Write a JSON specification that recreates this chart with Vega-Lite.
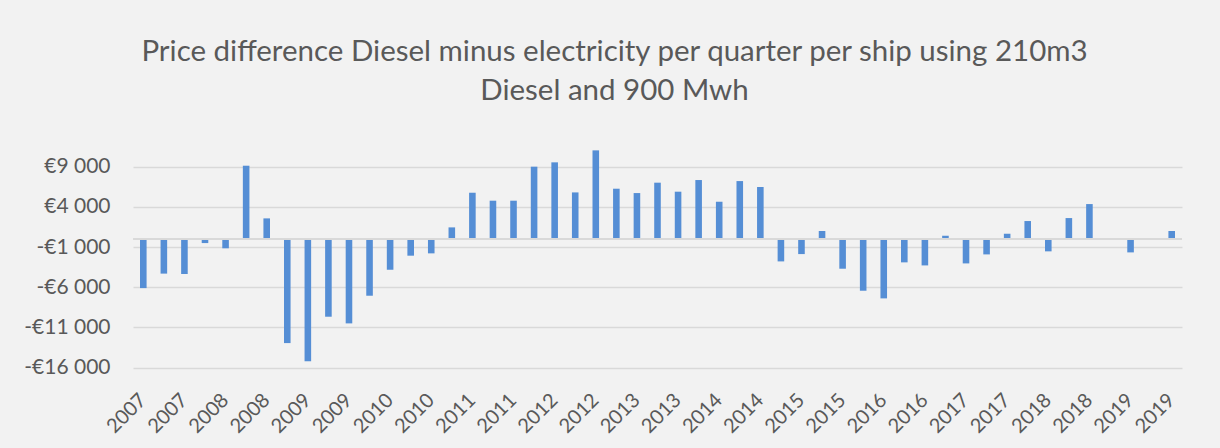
{
  "$schema": "https://vega.github.io/schema/vega-lite/v6.json",
  "autosize": {"type": "none"},
  "width": 1049,
  "height": 218.7,
  "padding": {"left": 133, "top": 149, "right": 38, "bottom": 80},
  "background": "#f2f2f2",
  "config": {
    "view": {"stroke": null},
    "font": "Lato"
  },
  "title": {
    "text": ["Price difference Diesel minus electricity per quarter per ship using 210m3", "Diesel and 900 Mwh"],
    "font": "Lato",
    "fontSize": 29.5,
    "fontWeight": "normal",
    "color": "#595959",
    "lineHeight": 39.5,
    "anchor": "middle",
    "dx": -43,
    "offset": 42
  },
  "data": {
    "values": [
      {"q": "2007Q1", "v": -6100},
      {"q": "2007Q2", "v": -4300},
      {"q": "2007Q3", "v": -4350},
      {"q": "2007Q4", "v": -500},
      {"q": "2008Q1", "v": -1150},
      {"q": "2008Q2", "v": 9120},
      {"q": "2008Q3", "v": 2570},
      {"q": "2008Q4", "v": -12940},
      {"q": "2009Q1", "v": -15200},
      {"q": "2009Q2", "v": -9660},
      {"q": "2009Q3", "v": -10490},
      {"q": "2009Q4", "v": -7050},
      {"q": "2010Q1", "v": -3810},
      {"q": "2010Q2", "v": -2070},
      {"q": "2010Q3", "v": -1780},
      {"q": "2010Q4", "v": 1450},
      {"q": "2011Q1", "v": 5760},
      {"q": "2011Q2", "v": 4770},
      {"q": "2011Q3", "v": 4770},
      {"q": "2011Q4", "v": 9000},
      {"q": "2012Q1", "v": 9540},
      {"q": "2012Q2", "v": 5800},
      {"q": "2012Q3", "v": 11030},
      {"q": "2012Q4", "v": 6260},
      {"q": "2013Q1", "v": 5720},
      {"q": "2013Q2", "v": 7010},
      {"q": "2013Q3", "v": 5890},
      {"q": "2013Q4", "v": 7340},
      {"q": "2014Q1", "v": 4640},
      {"q": "2014Q2", "v": 7210},
      {"q": "2014Q3", "v": 6470},
      {"q": "2014Q4", "v": -2780},
      {"q": "2015Q1", "v": -1870},
      {"q": "2015Q2", "v": 1000},
      {"q": "2015Q3", "v": -3690},
      {"q": "2015Q4", "v": -6430},
      {"q": "2016Q1", "v": -7380},
      {"q": "2016Q2", "v": -2900},
      {"q": "2016Q3", "v": -3280},
      {"q": "2016Q4", "v": 410},
      {"q": "2017Q1", "v": -3030},
      {"q": "2017Q2", "v": -1910},
      {"q": "2017Q3", "v": 660},
      {"q": "2017Q4", "v": 2240},
      {"q": "2018Q1", "v": -1530},
      {"q": "2018Q2", "v": 2610},
      {"q": "2018Q3", "v": 4350},
      {"q": "2018Q4", "v": null},
      {"q": "2019Q1", "v": -1660},
      {"q": "2019Q2", "v": null},
      {"q": "2019Q3", "v": 1000}
    ]
  },
  "layer": [
    {
      "mark": {"type": "bar", "color": "#558ed5"},
      "encoding": {
        "x": {
          "field": "q",
          "type": "ordinal",
          "scale": {
            "domain": ["2007Q1","2007Q2","2007Q3","2007Q4","2008Q1","2008Q2","2008Q3","2008Q4","2009Q1","2009Q2","2009Q3","2009Q4","2010Q1","2010Q2","2010Q3","2010Q4","2011Q1","2011Q2","2011Q3","2011Q4","2012Q1","2012Q2","2012Q3","2012Q4","2013Q1","2013Q2","2013Q3","2013Q4","2014Q1","2014Q2","2014Q3","2014Q4","2015Q1","2015Q2","2015Q3","2015Q4","2016Q1","2016Q2","2016Q3","2016Q4","2017Q1","2017Q2","2017Q3","2017Q4","2018Q1","2018Q2","2018Q3","2018Q4","2019Q1","2019Q2","2019Q3"],
            "paddingInner": 0.68,
            "paddingOuter": 0.34
          },
          "axis": {
            "title": null,
            "values": ["2007Q1","2007Q3","2008Q1","2008Q3","2009Q1","2009Q3","2010Q1","2010Q3","2011Q1","2011Q3","2012Q1","2012Q3","2013Q1","2013Q3","2014Q1","2014Q3","2015Q1","2015Q3","2016Q1","2016Q3","2017Q1","2017Q3","2018Q1","2018Q3","2019Q1","2019Q3"],
            "labelExpr": "slice(datum.value, 0, 4)",
            "labelAngle": -45,
            "labelAlign": "right",
            "labelBaseline": "middle",
            "labelFont": "Lato",
            "labelFontSize": 20,
            "labelColor": "#595959",
            "labelPadding": 29,
            "labelOverlap": false,
            "domain": false,
            "ticks": false,
            "grid": false
          }
        },
        "y": {
          "field": "v",
          "type": "quantitative",
          "stack": null,
          "scale": {"domain": [-16000, 11200], "nice": false, "zero": true},
          "axis": {
            "title": null,
            "values": [-16000, -11000, -6000, -1000, 4000, 9000],
            "labelExpr": "(datum.value < 0 ? '-' : '') + '€' + replace(format(abs(datum.value), ',d'), ',', ' ')",
            "labelFont": "Lato",
            "labelFontSize": 21,
            "labelColor": "#595959",
            "labelPadding": 23,
            "domain": false,
            "ticks": false,
            "grid": true,
            "gridColor": "#d9d9d9",
            "gridWidth": 1.3
          }
        }
      }
    },
    {
      "mark": {"type": "rule", "color": "#d9d9d9", "strokeWidth": 1.5},
      "encoding": {"y": {"datum": 0}}
    }
  ]
}
